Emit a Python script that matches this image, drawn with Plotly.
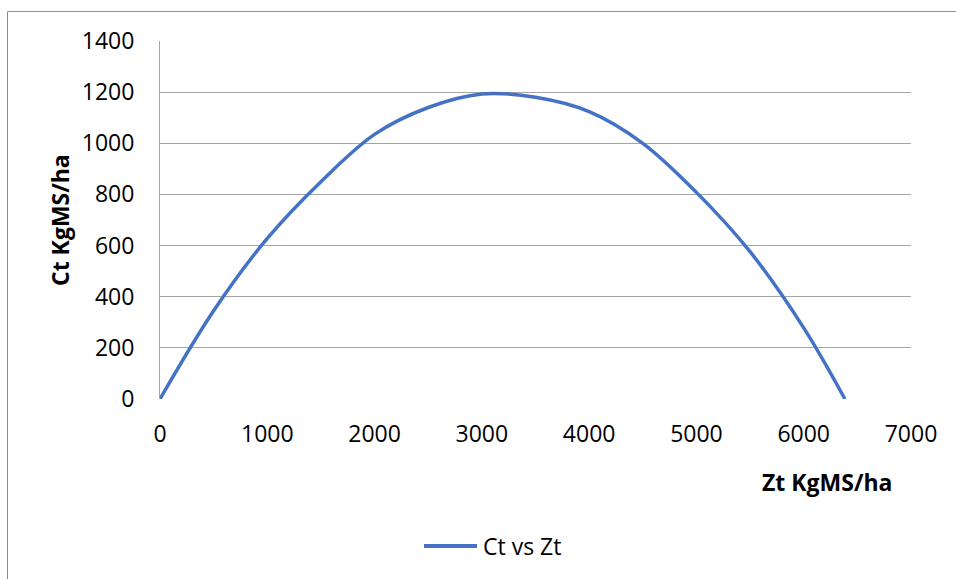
import plotly.graph_objects as go

zt = [0, 500, 1000, 1500, 2000, 2500, 3000, 3500, 4000, 4500, 5000, 5500, 6000, 6384]
ct = [0, 345, 628, 850, 1035, 1140, 1193, 1180, 1124, 1000, 808, 576, 278, 0]
series_name = "Ct vs Zt"
x_title = "Zt KgMS/ha"
y_title = "Ct KgMS/ha"
x_ticks = [0, 1000, 2000, 3000, 4000, 5000, 6000, 7000]
y_ticks = [0, 200, 400, 600, 800, 1000, 1200, 1400]

FONT = "Open Sans, Lato, sans-serif"
LINE_COLOR = "#4472C4"

fig = go.Figure()
fig.add_trace(go.Scatter(
    x=zt, y=ct, mode="lines", name=series_name, showlegend=False,
    line=dict(color=LINE_COLOR, width=3.5, shape="spline", smoothing=1.0),
))

W, H = 956, 579
L, R, T, B = 160, 911, 41, 399
pw, ph = R - L, B - T

def px(xp):
    return (xp - L) / pw

def py(yp):
    return (B - yp) / ph

fig.update_layout(
    width=W, height=H,
    margin=dict(l=L, r=W - R, t=T, b=H - B),
    paper_bgcolor="white", plot_bgcolor="white",
    font=dict(family=FONT, size=23, color="#000000"),
    showlegend=False,
    xaxis=dict(range=[0, 7000], tickvals=x_ticks, ticktext=[str(v) for v in x_ticks],
               showgrid=False, zeroline=False, showline=False, ticks="",
               ticklabelstandoff=19, fixedrange=True),
    yaxis=dict(range=[0, 1400], tickvals=y_ticks, ticktext=[str(v) for v in y_ticks],
               showgrid=True, gridcolor="#a6a6a6", gridwidth=1, zeroline=False,
               showline=True, linecolor="#a6a6a6", linewidth=1, ticks="",
               ticklabelstandoff=20, fixedrange=True),
    annotations=[
        dict(text="<b>" + x_title + "</b>", xref="paper", yref="paper",
             x=px(827), y=py(482), xanchor="center", yanchor="middle", showarrow=False,
             font=dict(family=FONT, size=23, color="#000000")),
        dict(text="<b>" + y_title + "</b>", xref="paper", yref="paper",
             x=px(60), y=py(220), xanchor="center", yanchor="middle", showarrow=False,
             textangle=-90, font=dict(family=FONT, size=23, color="#000000")),
        dict(text=series_name, xref="paper", yref="paper",
             x=px(481), y=py(546), xanchor="left", yanchor="middle", showarrow=False,
             font=dict(family=FONT, size=23, color="#000000")),
    ],
    shapes=[
        dict(type="rect", xref="paper", yref="paper",
             x0=px(7.5), x1=px(W + 20), y0=py(H + 20), y1=py(11.5),
             line=dict(color="#8c8c8c", width=1), fillcolor="rgba(0,0,0,0)", layer="below"),
        dict(type="line", xref="paper", yref="paper",
             x0=px(424), x1=px(477), y0=py(546), y1=py(546),
             line=dict(color=LINE_COLOR, width=4)),
    ],
)

fig.write_html("out.html", config={"displayModeBar": False},
               post_script="document.body.style.margin='0';document.body.style.overflow='hidden';")
